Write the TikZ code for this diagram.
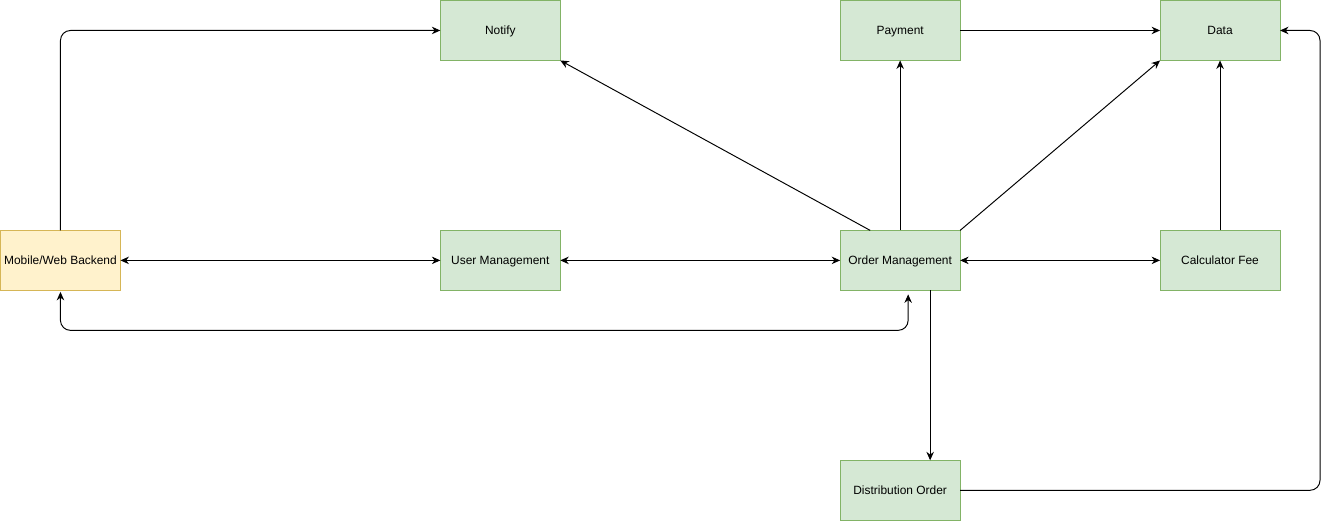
\documentclass[tikz,border=0pt]{standalone}
\usepackage{fontspec}
\setmainfont{Liberation Sans}
\usetikzlibrary{arrows.meta, positioning}

\definecolor{greenfill}{HTML}{D5E8D4}
\definecolor{greenline}{HTML}{82B366}
\definecolor{yellowfill}{HTML}{FFF2CC}
\definecolor{yellowline}{HTML}{D6B656}

\begin{document}
\begin{tikzpicture}[
    box/.style={draw=greenline, fill=greenfill, rectangle, align=center, minimum width=2.4cm, minimum height=1.2cm, inner sep=1pt, outer sep=0pt, text height=5.7pt, text depth=1pt, line width=0.55pt, font=\fontsize{6.8}{8}\selectfont},
    ybox/.style={box, draw=yellowline, fill=yellowfill},
    arrow/.style={-{Stealth[length=1.7mm, width=1.5mm]}, line width=0.55pt},
    dblarrow/.style={{Stealth[length=1.7mm, width=1.5mm]}-{Stealth[length=1.7mm, width=1.5mm]}, line width=0.55pt}
]

% Nodes
\node[ybox] (mobile) {Mobile/Web Backend};
\node[box, right=6.4cm of mobile] (user) {User Management};
\node[box, right=5.6cm of user] (order) {Order Management};
\node[box, right=4cm of order] (calc) {Calculator Fee};
\node[box, above=3.4cm of user] (notify) {Notify};
\node[box, above=3.4cm of order] (payment) {Payment};
\node[box, above=3.4cm of calc] (data) {Data};
\node[box, below=3.4cm of order] (dist) {Distribution Order};

\path[use as bounding box] (mobile.west |- notify.north) rectangle ++(26.6,-10.44);

% Arrows
\draw[dblarrow] (mobile) -- (user);
\draw[dblarrow] (user) -- (order);
\draw[dblarrow] (order) -- (calc);

\draw[arrow, rounded corners=0.2cm] (mobile.north) |- (notify.west);
\draw[arrow] ([xshift=-0.6cm]order.north) -- (notify.south east);
\draw[arrow] (order.north) -- (payment.south);
\draw[arrow] (order.north east) -- (data.south west);
\draw[arrow] (payment) -- (data);
\draw[arrow] (calc) -- (data);
\draw[arrow] ([xshift=0.6cm]order.south) -- ([xshift=0.6cm]order.south |- dist.north);
\draw[arrow, rounded corners=0.2cm] (dist.east) -| ([xshift=0.8cm]data.east) -- (data.east);
\draw[dblarrow, rounded corners=0.2cm] ([yshift=-0.03cm]mobile.south) -- ++(0,-0.77) -| ([xshift=0.16cm, yshift=-0.08cm]order.south);

\end{tikzpicture}
\end{document}
